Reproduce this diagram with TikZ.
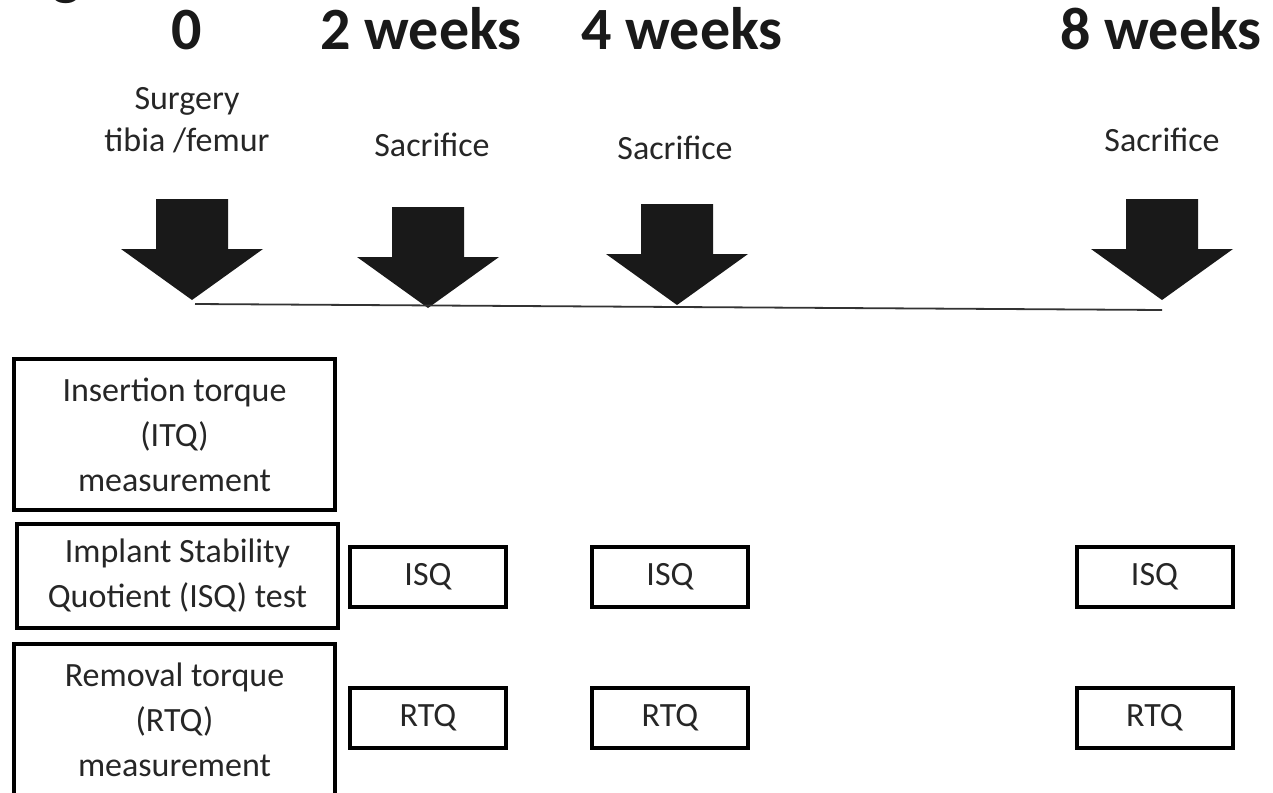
\documentclass[tikz,border=0pt]{standalone}
\usepackage{fontspec}
\setmainfont{Carlito}
\begin{document}
\begin{tikzpicture}[x=1pt,y=-1pt,
  week/.style={font=\fontsize{60}{60}\selectfont\bfseries, text=black!90},
  event/.style={font=\fontsize{34}{42}\selectfont, align=center, text=black!85},
  testbox/.style={draw, line width=4pt, align=center, inner sep=0pt,
    font=\fontsize{34}{45}\selectfont, text=black!85},
  small/.style={testbox, minimum width=156pt, minimum height=60pt},
  big/.style={testbox, minimum width=321pt}]
\useasboundingbox (0,0) rectangle (1273,792);
\clip (0,0) rectangle (1273,792);

% cut-off letter from the caption above
\node[week, anchor=base] (cap) at (67,-6) {g};

% time points
\node[week, anchor=base] (w0) at (187,50) {0};
\node[week, anchor=base] (w2) at (421,50) {2 weeks};
\node[week, anchor=base] (w4) at (682,50) {4 weeks};
\node[week, anchor=base] (w8) at (1161,50) {8 weeks};

\node[event] (surgery) at (187,120) {Surgery\\tibia /femur};
\node[event] (sac2) at (432,145) {Sacrifice};
\node[event] (sac4) at (675,148) {Sacrifice};
\node[event] (sac8) at (1162,140) {Sacrifice};

% block arrows, tip x / tip y
\foreach \x/\y in {192/300, 428/308, 677/305, 1162/300}
  \fill[black!90] (\x-36,\y-101) -- (\x+36,\y-101) -- (\x+36,\y-51)
    -- (\x+71,\y-51) -- (\x,\y) -- (\x-71,\y-51) -- (\x-36,\y-51) -- cycle;

\coordinate (t0) at (195,304);
\coordinate (t8) at (1162,310);
\draw[line width=1.8pt, black!80] (t0) -- (t8);

% measurements at surgery
\node[big, minimum height=151pt] (itq) at (174.5,434.5)
  {Insertion torque\\(ITQ)\\measurement};
\node[big, minimum height=104pt] (isq) at (177.5,576)
  {Implant Stability\\Quotient (ISQ) test};
\node[big, minimum height=151pt] (rtq) at (174.5,719.5)
  {Removal torque\\(RTQ)\\measurement};

% measurements at sacrifice
\node[small] (isq2) at (428,576.5) {ISQ};
\node[small] (isq4) at (670,576.5) {ISQ};
\node[small] (isq8) at (1154.5,576.5) {ISQ};
\node[small] (rtq2) at (428,718) {RTQ};
\node[small] (rtq4) at (670,718) {RTQ};
\node[small] (rtq8) at (1154.5,718) {RTQ};
\end{tikzpicture}
\end{document}
